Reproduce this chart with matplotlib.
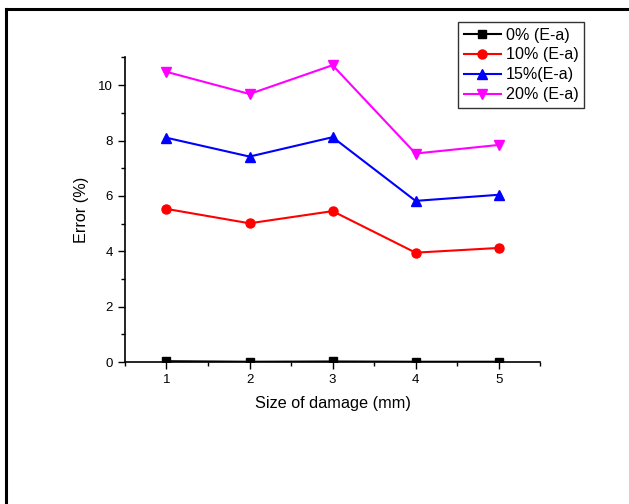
import matplotlib
matplotlib.use('Agg')
import matplotlib.pyplot as plt
from matplotlib.lines import Line2D
from matplotlib.ticker import MultipleLocator

plt.rcParams['font.family'] = ['Liberation Sans', 'DejaVu Sans']

# data
size = [1, 2, 3, 4, 5]
err_0 = [0.03, 0.01, 0.02, 0.01, 0.01]
err_10 = [5.53, 5.01, 5.45, 3.95, 4.12]
err_15 = [8.10, 7.42, 8.12, 5.82, 6.04]
err_20 = [10.48, 9.68, 10.72, 7.53, 7.84]
labels = ['0% (E-a)', '10% (E-a)', '15%(E-a)', '20% (E-a)']

fig = plt.figure(figsize=(6.29, 5.04), dpi=100)
ax = fig.add_axes([0.1987, 0.2817, 0.66, 0.6043])

ax.plot(size, err_0, color='black', marker='s', ms=5.5, lw=1.5, label=labels[0])
ax.plot(size, err_10, color='red', marker='o', ms=6.5, lw=1.5, label=labels[1])
ax.plot(size, err_15, color='blue', marker='^', ms=7, lw=1.5, label=labels[2])
ax.plot(size, err_20, color='magenta', marker='v', ms=7, lw=1.5, label=labels[3])

ax.set_xlim(0.5, 5.5)
ax.set_ylim(0, 11)
ax.xaxis.set_major_locator(MultipleLocator(1))
ax.xaxis.set_minor_locator(MultipleLocator(0.5))
ax.yaxis.set_major_locator(MultipleLocator(2))
ax.yaxis.set_minor_locator(MultipleLocator(1))
ax.spines['top'].set_visible(False)
ax.spines['right'].set_visible(False)
for s in ['left', 'bottom']:
    ax.spines[s].set_linewidth(1.2)
ax.tick_params(which='major', direction='out', length=5, width=1, labelsize=9.5)
ax.tick_params(which='minor', direction='out', length=3, width=1)

ax.set_xlabel('Size of damage (mm)', fontsize=11.7, labelpad=7)
ax.set_ylabel('Error (%)', fontsize=11.7, labelpad=7)

leg = fig.legend(loc='upper left', bbox_to_anchor=(458 / 629, 1 - 22 / 504),
                 fontsize=11.6, frameon=True, fancybox=False, handlelength=2.3,
                 borderpad=0.35, labelspacing=0.3, handletextpad=0.3,
                 borderaxespad=0)
leg.get_frame().set_edgecolor('black')
leg.get_frame().set_linewidth(1)

# outer frame lines (top and left)
fig.add_artist(Line2D([6 / 629, 627 / 629], [1 - 9 / 504, 1 - 9 / 504],
                      transform=fig.transFigure, color='black', lw=2.2))
fig.add_artist(Line2D([6 / 629, 6 / 629], [1 - 9 / 504, 0],
                      transform=fig.transFigure, color='black', lw=2.2))

fig.savefig('out.png', dpi=100)
